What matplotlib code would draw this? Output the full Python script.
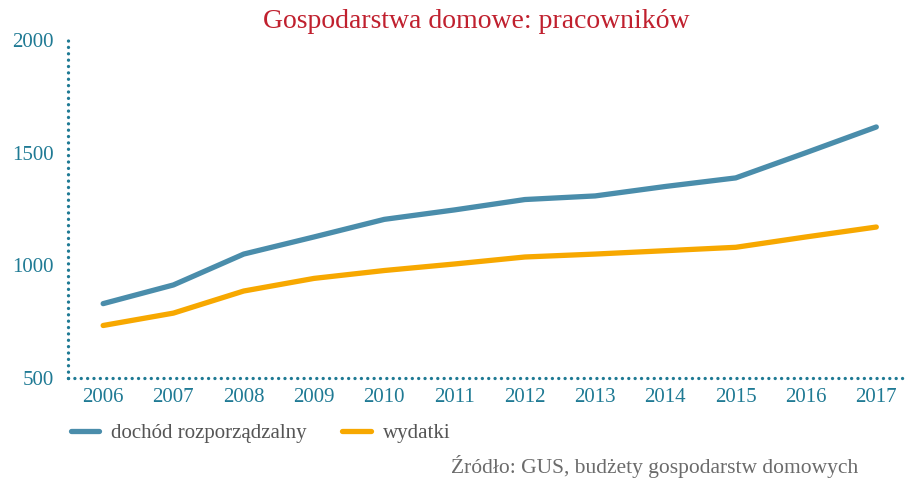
import matplotlib
matplotlib.use("Agg")
import matplotlib.pyplot as plt

years = [2006, 2007, 2008, 2009, 2010, 2011, 2012, 2013, 2014, 2015, 2016, 2017]
dochod = [830, 913, 1050, 1126, 1204, 1246, 1292, 1308, 1350, 1388, 1500, 1614]
wydatki = [733, 788, 886, 942, 977, 1006, 1037, 1050, 1065, 1080, 1126, 1170]
yticks = [500, 1000, 1500, 2000]

title = "Gospodarstwa domowe: pracowników"
source = "Źródło: GUS, budżety gospodarstw domowych"
labels = ["dochód rozporządzalny", "wydatki"]

BLUE = "#4a8dab"
ORANGE = "#f7a800"
TEAL = "#1f7a94"
RED = "#c0202e"
GRAY = "#6b6b6b"

plt.rcParams["font.family"] = ["Liberation Serif", "DejaVu Serif"]

fig = plt.figure(figsize=(9.05, 4.78), dpi=100)
ax = fig.add_axes([68/905, 1-378/478, (903-68)/905, (378-40)/478])

l1, = ax.plot(years, dochod, color=BLUE, lw=3.8, solid_capstyle="round", solid_joinstyle="round")
l2, = ax.plot(years, wydatki, color=ORANGE, lw=3.8, solid_capstyle="round", solid_joinstyle="round")

ax.set_xlim(2005.5, 2017.38)
ax.set_ylim(500, 2000)
ax.set_xticks(years)
ax.set_xticklabels([str(y) for y in years])
ax.set_yticks(yticks)
ax.tick_params(length=0, labelsize=15, colors=TEAL)
ax.tick_params(axis="y", pad=10)
ax.tick_params(axis="x", pad=7)

for s in ["top", "right"]:
    ax.spines[s].set_visible(False)
for s in ["left", "bottom"]:
    sp = ax.spines[s]
    sp.set_color(TEAL)
    sp.set_linewidth(2.4)
    sp.set_linestyle((0, (0.01, 1.9)))
    sp.set_capstyle("round")

fig.text(476/905, 1-22/478, title, color=RED, fontsize=20, ha="center", va="center")
fig.text(858/905, 1-467/478, source, color=GRAY, fontsize=15.5, ha="right", va="center")

leg = fig.legend([l1, l2], labels, loc="center left", bbox_to_anchor=(52/905, 1-433/478),
                 ncol=2, frameon=False, fontsize=15, handlelength=1.35, handletextpad=0.6,
                 columnspacing=1.7)
for t in leg.get_texts():
    t.set_color("#555555")

fig.savefig("out.png", dpi=100)
